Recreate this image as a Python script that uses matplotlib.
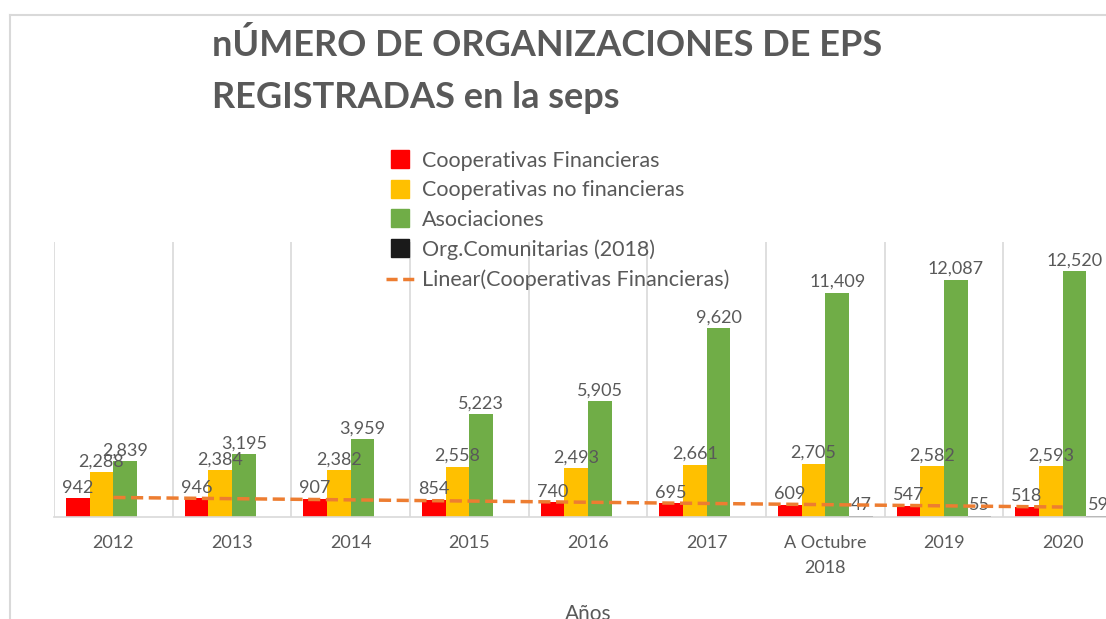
import numpy as np
import matplotlib
matplotlib.use("Agg")
import matplotlib.pyplot as plt
from matplotlib.lines import Line2D

# Datos
anios = ["2012", "2013", "2014", "2015", "2016", "2017", "A Octubre\n2018", "2019", "2020"]
coop_financieras = [942, 946, 907, 854, 740, 695, 609, 547, 518]
coop_no_financieras = [2288, 2384, 2382, 2558, 2493, 2661, 2705, 2582, 2593]
asociaciones = [2839, 3195, 3959, 5223, 5905, 9620, 11409, 12087, 12520]
org_comunitarias = [np.nan, np.nan, np.nan, np.nan, np.nan, np.nan, 47, 55, 59]

series = [
    ("Cooperativas Financieras", coop_financieras, "#FF0000"),
    ("Cooperativas no financieras", coop_no_financieras, "#FFC000"),
    ("Asociaciones", asociaciones, "#70AD47"),
    ("Org.Comunitarias (2018)", org_comunitarias, "#1A1A1A"),
]

gris = "#595959"
gris_claro = "#D9D9D9"
plt.rcParams["font.family"] = ["Lato", "DejaVu Sans"]

W, H = 1106, 619
fig = plt.figure(figsize=(W / 100, H / 100), dpi=100)
# el área de trazado se sale por la derecha, como en la captura
ax = fig.add_axes([54 / W, (H - 517) / H, 1068 / W, 275 / H])

x = np.arange(len(anios))
ancho = 0.2
handles = []
for i, (nombre, valores, color) in enumerate(series):
    barras = ax.bar(x + (i - 1.5) * ancho, valores, ancho, color=color, zorder=2)
    etiquetas = ["" if np.isnan(v) else f"{v:,.0f}" for v in np.asarray(valores, float)]
    ax.bar_label(barras, labels=etiquetas, padding=2, fontsize=13, color=gris)
    handles.append(Line2D([], [], ls="none", marker="s", markersize=12.5,
                          markerfacecolor=color, markeredgecolor=color, label=nombre))

# tendencia lineal de Cooperativas Financieras
pend, orig = np.polyfit(x + 1, coop_financieras, 1)
ax.plot(x, pend * (x + 1) + orig, color="#ED7D31", lw=2.5, ls=(0, (3.5, 1.6)), zorder=3)
handles.append(Line2D([], [], color="#ED7D31", lw=2.5, ls=(0, (3.2, 1.6)),
                      label="Linear(Cooperativas Financieras)"))

ax.set_xlim(-0.5, len(anios) - 0.5)
ax.set_ylim(0, 14000)
ax.set_yticks([])
ax.set_xticks(x)
ax.set_xticklabels(anios, fontsize=13, color=gris, linespacing=1.7)
ax.set_xticks(np.arange(-0.5, len(anios)), minor=True)
ax.tick_params(axis="x", which="both", length=0, pad=13)
ax.grid(which="minor", axis="x", color=gris_claro, lw=1.2)
for s in ["top", "right", "left"]:
    ax.spines[s].set_visible(False)
ax.spines["bottom"].set_color(gris_claro)
ax.spines["bottom"].set_linewidth(1.2)
ax.set_xlabel("Años", fontsize=15, color=gris, labelpad=20)

fig.legend(handles=handles, loc="upper left", bbox_to_anchor=(386 / W, 1 - 151 / H),
           frameon=False, fontsize=15.5, labelcolor=gris, handlelength=1.3,
           handletextpad=0.37, labelspacing=0.44, borderpad=0, borderaxespad=0)

fig.text(212 / W, 1 - 28 / H, "nÚMERO DE ORGANIZACIONES DE EPS\nREGISTRADAS en la seps",
         fontsize=26, fontweight="bold", color=gris, va="top", ha="left", linespacing=1.72)

# borde del área del gráfico
fig.add_artist(Line2D([10 / W, 10 / W], [0, 1 - 15 / H], color=gris_claro, lw=1.5))
fig.add_artist(Line2D([10 / W, 1], [1 - 15 / H, 1 - 15 / H], color=gris_claro, lw=1.5))

fig.savefig("out.png", dpi=100)
